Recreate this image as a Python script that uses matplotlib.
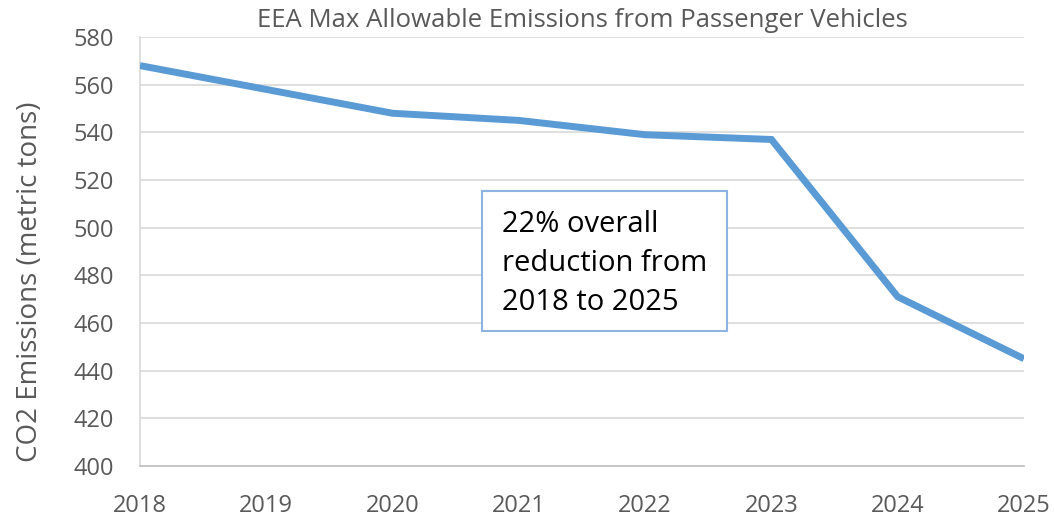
import matplotlib
matplotlib.use("Agg")
import matplotlib.pyplot as plt
from matplotlib.patches import Rectangle

years = [2018, 2019, 2020, 2021, 2022, 2023, 2024, 2025]
emissions = [568, 558, 548, 545, 539, 537, 471, 445]
yticks = list(range(400, 581, 20))
note = "22% overall\nreduction from\n2018 to 2025"

plt.rcParams["font.family"] = ["Open Sans", "DejaVu Sans"]
plt.rcParams["font.weight"] = "normal"
grey = "#595959"

fig = plt.figure(figsize=(10.54, 5.16), dpi=100)
ax = fig.add_axes([0.1328, 0.0969, 0.8387, 0.8314])

ax.plot(years, emissions, color="#5B9BD5", lw=5, solid_joinstyle="miter",
        solid_capstyle="butt", zorder=3)

ax.set_xlim(years[0], years[-1])
ax.set_ylim(yticks[0], yticks[-1])
ax.set_xticks(years)
ax.set_yticks(yticks)
ax.grid(axis="y", color="#d9d9d9", lw=1.2)
ax.set_axisbelow(True)
for s in ["top", "right"]:
    ax.spines[s].set_visible(False)
ax.spines["left"].set_color("#d9d9d9")
ax.spines["bottom"].set_color("#bfbfbf")
ax.spines["left"].set_linewidth(1.2)
ax.spines["bottom"].set_linewidth(1.2)
ax.tick_params(length=0, labelsize=17, labelcolor=grey)
ax.tick_params(axis="y", pad=19)
ax.tick_params(axis="x", pad=20)

ax.set_ylabel("CO2 Emissions (metric tons)", fontsize=20, color=grey)
ax.yaxis.set_label_coords(-0.109, 0.43)
ax.set_title("EEA Max Allowable Emissions from Passenger Vehicles",
             fontsize=18.5, color=grey, pad=7)

# annotation box
ax.add_patch(Rectangle((0.387, 0.314), 0.277, 0.326, transform=ax.transAxes,
                       facecolor="white", edgecolor="#8db3e2", lw=1.5, zorder=4))
ax.text(0.409, 0.596, note, transform=ax.transAxes, fontsize=21,
        va="top", ha="left", color="black", linespacing=1.45, zorder=5)

fig.savefig("out.png", dpi=100)
